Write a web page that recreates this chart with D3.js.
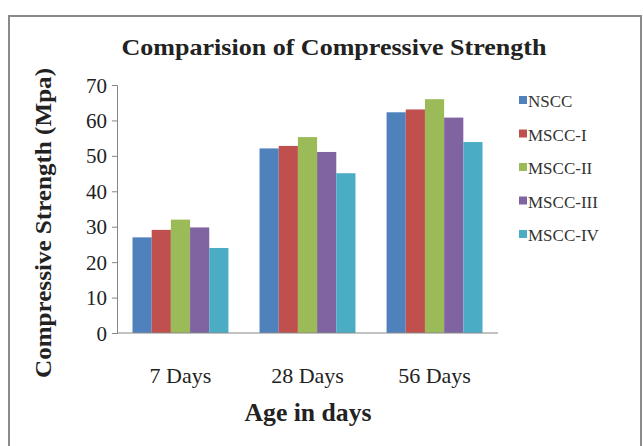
<!DOCTYPE html>
<html><head><meta charset="utf-8">
<script src="https://cdn.jsdelivr.net/npm/d3@7"></script>
<style>body{margin:0;background:#fff}svg{display:block}</style>
</head><body>
<script>
const categories = ["7 Days", "28 Days", "56 Days"];
const seriesNames = ["NSCC", "MSCC-I", "MSCC-II", "MSCC-III", "MSCC-IV"];
const NSCC = [27.0, 52.1, 62.3];
const MSCC_I = [29.1, 52.8, 63.1];
const MSCC_II = [32.0, 55.3, 66.0];
const MSCC_III = [29.8, 51.1, 60.8];
const MSCC_IV = [24.0, 45.1, 53.9];
const yTicks = [0, 10, 20, 30, 40, 50, 60, 70];
const colors = ["#4F81BD", "#C0504D", "#9BBB59", "#8064A2", "#4BACC6"];
const seriesValues = [NSCC, MSCC_I, MSCC_II, MSCC_III, MSCC_IV];

const W = 643, H = 446;
const svg = d3.select("body").append("svg").attr("width", W).attr("height", H);
svg.append("rect").attr("width", W).attr("height", H).attr("fill", "#fff");
// frame
svg.append("rect").attr("x", 9).attr("y", 16).attr("width", 632).attr("height", 440)
  .attr("fill", "none").attr("stroke", "#8a8a8a").attr("stroke-width", 2);

const serif = "'Liberation Serif','Times New Roman',serif";
const x0 = d3.scaleBand().domain(categories).range([117, 498]).paddingInner(0.245).paddingOuter(0.122);
const x1 = d3.scaleBand().domain(seriesNames).range([0, x0.bandwidth()]).padding(0);
const y = d3.scaleLinear().domain([0, 70]).range([333, 85]);

// bars
const groups = svg.append("g").selectAll("g").data(categories).join("g")
  .attr("transform", d => `translate(${x0(d)},0)`);
groups.selectAll("rect").data((c, i) => seriesNames.map((s, j) => ({s, j, v: seriesValues[j][i]})))
  .join("rect")
  .attr("x", d => x1(d.s)).attr("width", x1.bandwidth())
  .attr("y", d => y(d.v)).attr("height", d => y(0) - y(d.v))
  .attr("fill", d => colors[d.j]);

// y axis
const ya = svg.append("g").attr("transform", "translate(117,0)")
  .call(d3.axisLeft(y).tickValues(yTicks).tickSize(5).tickPadding(5));
ya.selectAll("path,line").attr("stroke", "#868686");
ya.selectAll("text").attr("font-family", serif).attr("font-size", 21).attr("fill", "#222")
  .attr("dy", "0.34em");

// x axis
const xa = svg.append("g").attr("transform", "translate(0,333)")
  .call(d3.axisBottom(x0).tickSize(0).tickPadding(0));
xa.select("path").attr("d", "M117,0H498").attr("stroke", "#868686");
xa.selectAll("text").attr("font-family", serif).attr("font-size", 22).attr("fill", "#222")
  .attr("dy", "0").attr("y", 50);

// title
svg.append("text").attr("x", 334).attr("y", 55).attr("text-anchor", "middle")
  .attr("font-family", serif).attr("font-weight", "bold").attr("font-size", 24)
  .attr("textLength", 425).attr("lengthAdjust", "spacingAndGlyphs").attr("fill", "#222")
  .text("Comparision of Compressive Strength");

// y axis title
svg.append("text").attr("transform", "translate(51,223) rotate(-90)").attr("text-anchor", "middle")
  .attr("font-family", serif).attr("font-weight", "bold").attr("font-size", 23)
  .attr("textLength", 310).attr("lengthAdjust", "spacingAndGlyphs").attr("fill", "#222")
  .text("Compressive Strength (Mpa)");

// x axis title
svg.append("text").attr("x", 308).attr("y", 421).attr("text-anchor", "middle")
  .attr("font-family", serif).attr("font-weight", "bold").attr("font-size", 25)
  .attr("textLength", 127).attr("lengthAdjust", "spacingAndGlyphs")
  .attr("fill", "#222").text("Age in days");

// legend
const leg = svg.append("g").selectAll("g").data(seriesNames).join("g")
  .attr("transform", (d, i) => `translate(519,${101 + i * 33.5})`);
leg.append("rect").attr("x", 0).attr("y", -5).attr("width", 8).attr("height", 8)
  .attr("fill", (d, i) => colors[i]);
leg.append("text").attr("x", 9).attr("y", 6).attr("font-family", serif).attr("font-size", 17)
  .attr("fill", "#333").text(d => d);
</script>
</body></html>
